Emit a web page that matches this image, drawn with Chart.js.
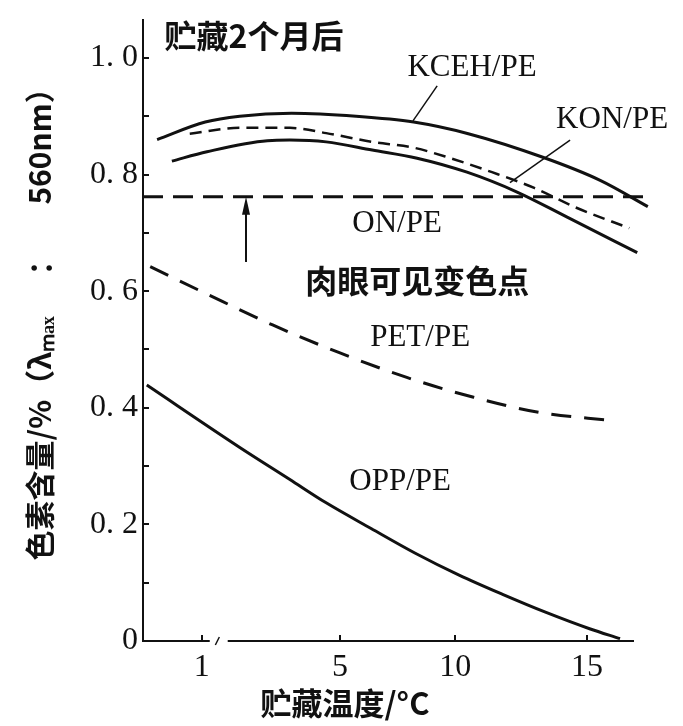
<!DOCTYPE html>
<html>
<head>
<meta charset="utf-8">
<script src="https://cdn.jsdelivr.net/npm/chart.js@4.4.1/dist/chart.umd.min.js"></script>
<style>
  body { margin: 0; background: #fff; }
  #wrap { width: 683px; height: 726px; }
</style>
</head>
<body>
<div id="wrap"><canvas id="chart"></canvas></div>
<script>
// temperatures (°C) and pigment content
const seriesNames = ["KCEH/PE", "KON/PE", "ON/PE", "PET/PE", "OPP/PE"];

const kcehT = [-0.3, 1.1, 2.1, 3.6, 5.7, 8.2, 10.5, 13.3, 15.5, 17.3];
const kcehV = [0.86, 0.89, 0.9, 0.905, 0.9, 0.89, 0.87, 0.83, 0.79, 0.745];

const konT = [0.65, 2.1, 3.55, 4.6, 6.4, 8.2, 9.8, 11.4, 13.0, 14.6, 16.6];
const konV = [0.87, 0.88, 0.88, 0.871, 0.856, 0.846, 0.828, 0.804, 0.777, 0.743, 0.708];

const onT = [0.13, 1.15, 2.9, 3.55, 4.6, 6.4, 8.35, 10.45, 12.35, 14.25, 16.9];
const onV = [0.823, 0.839, 0.858, 0.859, 0.856, 0.842, 0.828, 0.804, 0.77, 0.727, 0.666];

const petT = [-0.5, 1.15, 3.05, 5.0, 7.9, 10.7, 13.2, 15.95];
const petV = [0.642, 0.595, 0.542, 0.494, 0.452, 0.418, 0.392, 0.378];

const oppT = [-0.6, 2.1, 3.55, 4.6, 6.35, 8.25, 10.15, 11.8, 13.45, 15.1, 16.25];
const oppV = [0.439, 0.332, 0.277, 0.237, 0.193, 0.151, 0.113, 0.08, 0.049, 0.021, 0.004];

// visible colour change threshold
const thresholdName = "肉眼可见变色点";
const thresholdT = [-0.71, 17.3];
const thresholdV = [0.762, 0.762];

const xTicks = [1, 5, 10, 15];
const yTicks = [0, 0.1, 0.2, 0.3, 0.4, 0.5, 0.6, 0.7, 0.8, 0.9, 1.0];
const yTickLabels = ["0", "", "0. 2", "", "0. 4", "", "0. 6", "", "0. 8", "", "1. 0"];

const subtitle = "贮藏2个月后";
const xTitle = "贮藏温度/°C";
const yTitle = "    色素含量/%（λₘₐₓ      ：      560nm）";

// the printed temperature axis is not uniform (broken near 1 °C)
const xKnotValues = [-0.71, 1, 5, 10, 15, 16.74];
const xKnotFractions = [0, 0.12, 0.402, 0.637, 0.906, 1];

function interp(v, from, to) {
  let i = 1;
  while (i < from.length - 1 && v > from[i]) i++;
  return to[i - 1] + ((v - from[i - 1]) * (to[i] - to[i - 1])) / (from[i] - from[i - 1]);
}

class BrokenScale extends Chart.LinearScale {
  getPixelForValue(value) {
    return this.getPixelForDecimal(interp(value, xKnotValues, xKnotFractions));
  }
  getValueForPixel(pixel) {
    return interp(this.getDecimalForPixel(pixel), xKnotFractions, xKnotValues);
  }
}
BrokenScale.id = "broken";
BrokenScale.defaults = Chart.LinearScale.defaults;
Chart.register(BrokenScale);

const pts = (t, v) => t.map((x, i) => ({ x: x, y: v[i] }));

function curve(label, t, v, dash, width) {
  return {
    label: label,
    data: pts(t, v),
    borderColor: "#111",
    borderWidth: width,
    borderDash: dash,
    pointRadius: 0,
    cubicInterpolationMode: "monotone",
    fill: false,
    clip: false,
  };
}

const notes = {
  id: "notes",
  afterDraw(chart) {
    const { ctx, chartArea } = chart;
    const px = (v) => chart.scales.x.getPixelForValue(v);
    const py = (v) => chart.scales.y.getPixelForValue(v);
    const cjk = 'bold 32px "Noto Sans CJK SC"';
    const latin = '31px "Liberation Serif"';
    ctx.save();
    ctx.fillStyle = "#111";
    ctx.strokeStyle = "#111";
    ctx.textAlign = "center";
    ctx.textBaseline = "middle";
    const text = (s, xv, yv, font) => {
      ctx.font = font;
      ctx.fillText(s, px(xv), py(yv));
    };
    const line = (x1, y1, x2, y2, w) => {
      ctx.lineWidth = w;
      ctx.beginPath();
      ctx.moveTo(px(x1), py(y1));
      ctx.lineTo(px(x2), py(y2));
      ctx.stroke();
    };

    text(subtitle, 2.51, 1.038, cjk);
    text(seriesNames[0], 10.64, 0.983, latin);
    text(seriesNames[1], 15.95, 0.894, latin);
    text(seriesNames[2], 7.48, 0.715, latin);
    text(thresholdName, 8.35, 0.617, cjk);
    text(seriesNames[3], 8.48, 0.52, latin);
    text(seriesNames[4], 7.61, 0.273, latin);

    // leaders
    line(9.22, 0.952, 8.17, 0.892, 1.5);
    line(14.36, 0.859, 12.08, 0.786, 1.5);

    // arrow up to threshold
    line(2.28, 0.65, 2.28, 0.745, 2);
    const ax = px(2.28), ay = py(0.762);
    ctx.beginPath();
    ctx.moveTo(ax, ay);
    ctx.lineTo(ax - 4, ay + 18);
    ctx.lineTo(ax + 4, ay + 18);
    ctx.closePath();
    ctx.fill();

    // axis break
    ctx.fillStyle = "#fff";
    ctx.fillRect(px(1.23), chartArea.bottom - 3, px(1.75) - px(1.23), 6);
    ctx.fillStyle = "#111";
    ctx.lineWidth = 1.5;
    ctx.beginPath();
    ctx.moveTo(px(1.45) - 2, chartArea.bottom + 4);
    ctx.lineTo(px(1.45) + 2, chartArea.bottom - 4);
    ctx.stroke();

    // x axis title
    ctx.font = 'bold 31px "Noto Sans CJK SC"';
    ctx.fillText(xTitle, px(5.22), chartArea.bottom + 62);
    ctx.restore();
  },
};

Chart.defaults.font.family = '"Liberation Serif", serif';
Chart.defaults.color = "#111";

new Chart(document.getElementById("chart"), {
  type: "line",
  data: {
    datasets: [
      curve(seriesNames[0], kcehT, kcehV, [], 3),
      curve(seriesNames[1], konT, konV, [12, 7], 2.5),
      curve(seriesNames[2], onT, onV, [], 3),
      curve(thresholdName, thresholdT, thresholdV, [20, 10], 3),
      curve(seriesNames[3], petT, petV, [20, 13], 3),
      curve(seriesNames[4], oppT, oppV, [], 3),
    ],
  },
  options: {
    responsive: true,
    maintainAspectRatio: false,
    animation: false,
    layout: { padding: { top: 20, right: 50, left: 0, bottom: 0 } },
    plugins: {
      legend: { display: false },
      tooltip: { enabled: false },
    },
    scales: {
      x: {
        type: "broken",
        min: -0.71,
        max: 16.74,
        afterBuildTicks: (scale) => {
          scale.ticks = xTicks.map((v) => ({ value: v }));
        },
        afterFit: (scale) => {
          scale.height = 85;
          scale.paddingLeft = 0;
          scale.paddingRight = 0;
        },
        grid: { drawOnChartArea: false, tickLength: -6, color: "#111", lineWidth: 2 },
        border: { color: "#111", width: 2 },
        ticks: {
          padding: 13,
          maxRotation: 0,
          font: { size: 32 },
          callback: (v) => String(v),
        },
      },
      y: {
        type: "linear",
        min: 0,
        max: 1.065,
        afterBuildTicks: (scale) => {
          scale.ticks = yTicks.map((v) => ({ value: v }));
        },
        afterFit: (scale) => {
          scale.width = 143;
          scale.paddingTop = 0;
          scale.paddingBottom = 0;
        },
        grid: { drawOnChartArea: false, tickLength: -6, color: "#111", lineWidth: 2 },
        border: { color: "#111", width: 2 },
        ticks: {
          padding: 11,
          font: { size: 32 },
          callback: (v, i) => yTickLabels[i],
        },
        title: {
          display: true,
          text: yTitle,
          font: { family: '"Noto Sans CJK SC"', size: 30, weight: "bold" },
          padding: { top: 22, bottom: 0 },
        },
      },
    },
  },
  plugins: [notes],
});
</script>
</body>
</html>
